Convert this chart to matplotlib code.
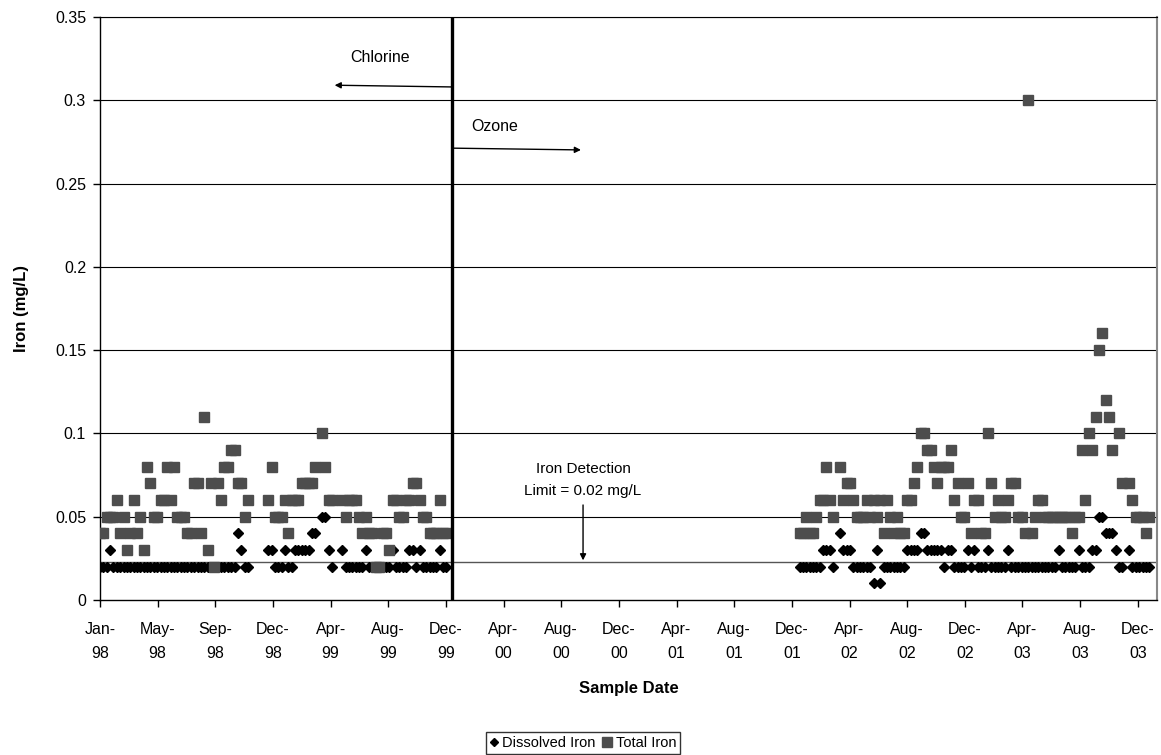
import matplotlib
matplotlib.use('Agg')
import matplotlib.pyplot as plt
import pandas as pd

plt.rcParams['font.family'] = ['Liberation Sans', 'DejaVu Sans']

# weekly samples, None = no sample taken that week
start_1998 = '1998-01-05'
dissolved_1998 = [
    .02, .02, .02, .03, .02, .02, .02, .02, .02, .02,
    .02, .02, .02, .02, .02, .02, .02, .02, .02, .02,
    .02, .02, .02, .02, .02, .02, .02, .02, .02, .02,
    .02, .02, .02, .02, .02, .02, .02, .02, .02, .02,
    .02, .04, .03, .02, .02, None, None, None, None, None,
    .03, .03, .02, .02, .02, .03, .02, .02, .03, .03,
    .03, .03, .03, .04, .04, None, .05, .05, .03, .02,
    None, None, .03, .02, .02, .02, .02, .02, .02, .03,
    .02, .02, .02, .02, .02, .02, .02, .03, .02, .02,
    .02, .02, .03, .03, .02, .03, .02, .02, .02, .02,
    .02, .03, .02, .02]
total_1998 = [
    .04, .04, .05, .05, .05, .06, .04, .05, .03, .04,
    .06, .04, .05, .03, .08, .07, .05, .05, .06, .06,
    .08, .06, .08, .05, .05, .05, .04, .04, .07, .07,
    .04, .11, .03, .07, .02, .07, .06, .08, .08, .09,
    .09, .07, .07, .05, .06, None, None, None, None, None,
    .06, .08, .05, .05, .05, .06, .04, .06, .06, .06,
    .07, .07, .07, .07, .08, None, .10, .08, .06, .06,
    None, None, .06, .05, .06, .06, .06, .05, .04, .05,
    .04, .04, .02, .02, .04, .04, .03, .06, .06, .05,
    .05, .06, .06, .07, .07, .06, .05, .05, .04, .04,
    .04, .06, .04, .04]

start_2002 = '2001-12-31'
dissolved_2002 = [
    .02, .02, .02, .02, .02, .02, .02, .03, .03, .03,
    .02, None, .04, .03, .03, .03, .02, .02, .02, .02,
    .02, .02, .01, .03, .01, .02, .02, .02, .02, .02,
    .02, .02, .03, .03, .03, .03, .04, .04, .03, .03,
    .03, .03, .03, .02, .03, .03, .02, .02, .02, .02,
    .03, .02, .03, .02, .02, .02, .03, .02, .02, .02,
    .02, .02, .03, .02, .02, .02, .02, .02, .02, .02,
    .02, .02, .02, .02, .02, .02, .02, .03, .02, .02,
    .02, .02, .02, .03, .02, .02, .02, .03, .03, .05,
    .05, .04, .04, .04, .03, .02, .02, None, .03, .02,
    .02, .02, .02, .02, .02]
total_2002 = [
    .04, .04, .05, .04, .04, .05, .06, .06, .08, .06,
    .05, None, .08, .06, .07, .07, .06, .05, .05, .05,
    .06, .05, .06, .05, .06, .04, .06, .05, .04, .05,
    .04, .04, .06, .06, .07, .08, .10, .10, .09, .09,
    .08, .07, .08, .08, .08, .09, .06, .07, .05, .05,
    .07, .04, .06, .06, .04, .04, .10, .07, .05, .06,
    .05, .05, .06, .07, .07, .05, .05, .04, .30, .04,
    .05, .06, .06, .05, .05, .05, .05, .05, .05, .05,
    .05, .04, .05, .05, .09, .06, .10, .09, .11, .15,
    .16, .12, .11, .09, None, .10, .07, None, .07, .06,
    .05, .05, .05, .04, .05]

tick_labels = ['Jan-\n98', 'May-\n98', 'Sep-\n98', 'Dec-\n98', 'Apr-\n99', 'Aug-\n99',
               'Dec-\n99', 'Apr-\n00', 'Aug-\n00', 'Dec-\n00', 'Apr-\n01', 'Aug-\n01',
               'Dec-\n01', 'Apr-\n02', 'Aug-\n02', 'Dec-\n02', 'Apr-\n03', 'Aug-\n03',
               'Dec-\n03']
y_ticks = [0, 0.05, 0.1, 0.15, 0.2, 0.25, 0.3, 0.35]
y_tick_labels = ['0', '0.05', '0.1', '0.15', '0.2', '0.25', '0.3', '0.35']

switch_date = '2000-01-07'     # chlorine -> ozone
detection_line = 0.023         # drawn just above the 0.02 mg/L points

dates = list(pd.date_range(start_1998, periods=len(total_1998), freq='7D')) + \
        list(pd.date_range(start_2002, periods=len(total_2002), freq='7D'))
dissolved = [float('nan') if v is None else v for v in dissolved_1998 + dissolved_2002]
total = [float('nan') if v is None else v for v in total_1998 + total_2002]

fig = plt.figure(figsize=(11.61, 7.55), dpi=100)
ax = fig.add_axes([100 / 1161, 1 - 600 / 755, 1057 / 1161, 583 / 755])

# gridlines and detection limit line
for y in y_ticks[1:]:
    ax.axhline(y, color='black', lw=0.8, zorder=1)
ax.axhline(detection_line, color='#555555', lw=1.0, zorder=1)

h1, = ax.plot(dates, dissolved, 'D', color='black', ms=4.8, ls='none', zorder=3)
h2, = ax.plot(dates, total, 's', color='#4D4D4D', ms=7.3, ls='none', zorder=4)

ax.axvline(pd.Timestamp(switch_date), color='black', lw=2.4, zorder=5)

x_start = pd.Timestamp('1998-01-05')
ax.set_xlim(x_start, pd.Timestamp('2004-01-14'))
ax.set_ylim(0, 0.35)

ax.set_xticks(pd.date_range(x_start, periods=len(tick_labels), freq='120D'))
ax.set_xticklabels(tick_labels, fontsize=11.5, linespacing=1.7)
ax.set_yticks(y_ticks)
ax.set_yticklabels(y_tick_labels, fontsize=11.5)
ax.tick_params(axis='x', direction='out', length=5, width=1, pad=11)
ax.tick_params(axis='y', direction='out', length=5, width=1, pad=5)

ax.spines['left'].set_linewidth(1.0)
ax.spines['bottom'].set_linewidth(1.0)
ax.spines['top'].set_linewidth(0.8)
ax.spines['right'].set_color('#888888')
ax.spines['right'].set_linewidth(1.5)

ax.set_xlabel('Sample Date', fontsize=12, fontweight='bold', labelpad=15)
ax.set_ylabel('Iron (mg/L)', fontsize=12, fontweight='bold', labelpad=19)

# treatment annotations
arrow = dict(arrowstyle='-|>', color='black', lw=1.0, mutation_scale=9, shrinkA=0, shrinkB=0)
ax.text(0.265, 0.931, 'Chlorine', transform=ax.transAxes, fontsize=11.5, ha='center', va='center')
ax.annotate('', xy=(0.222, 0.883), xytext=(0.334, 0.880), xycoords='axes fraction',
            textcoords='axes fraction', arrowprops=arrow)
ax.text(0.373, 0.812, 'Ozone', transform=ax.transAxes, fontsize=11.5, ha='center', va='center')
ax.annotate('', xy=(0.455, 0.772), xytext=(0.335, 0.775), xycoords='axes fraction',
            textcoords='axes fraction', arrowprops=arrow)
ax.text(0.457, 0.206, 'Iron Detection\nLimit = 0.02 mg/L', transform=ax.transAxes,
        fontsize=11, ha='center', va='center', linespacing=1.75)
ax.annotate('', xy=(0.457, 0.068), xytext=(0.457, 0.163), xycoords='axes fraction',
            textcoords='axes fraction', arrowprops=arrow)

fig.legend([h1, h2], ['Dissolved Iron', 'Total Iron'], loc='center',
           bbox_to_anchor=(583 / 1161, 1 - 743 / 755), ncol=2, fontsize=10.5,
           frameon=True, fancybox=False, edgecolor='black', handlelength=0.6,
           handletextpad=0.3, columnspacing=0.5, borderpad=0.25, markerscale=0.9)

fig.savefig('out.png', dpi=100)
